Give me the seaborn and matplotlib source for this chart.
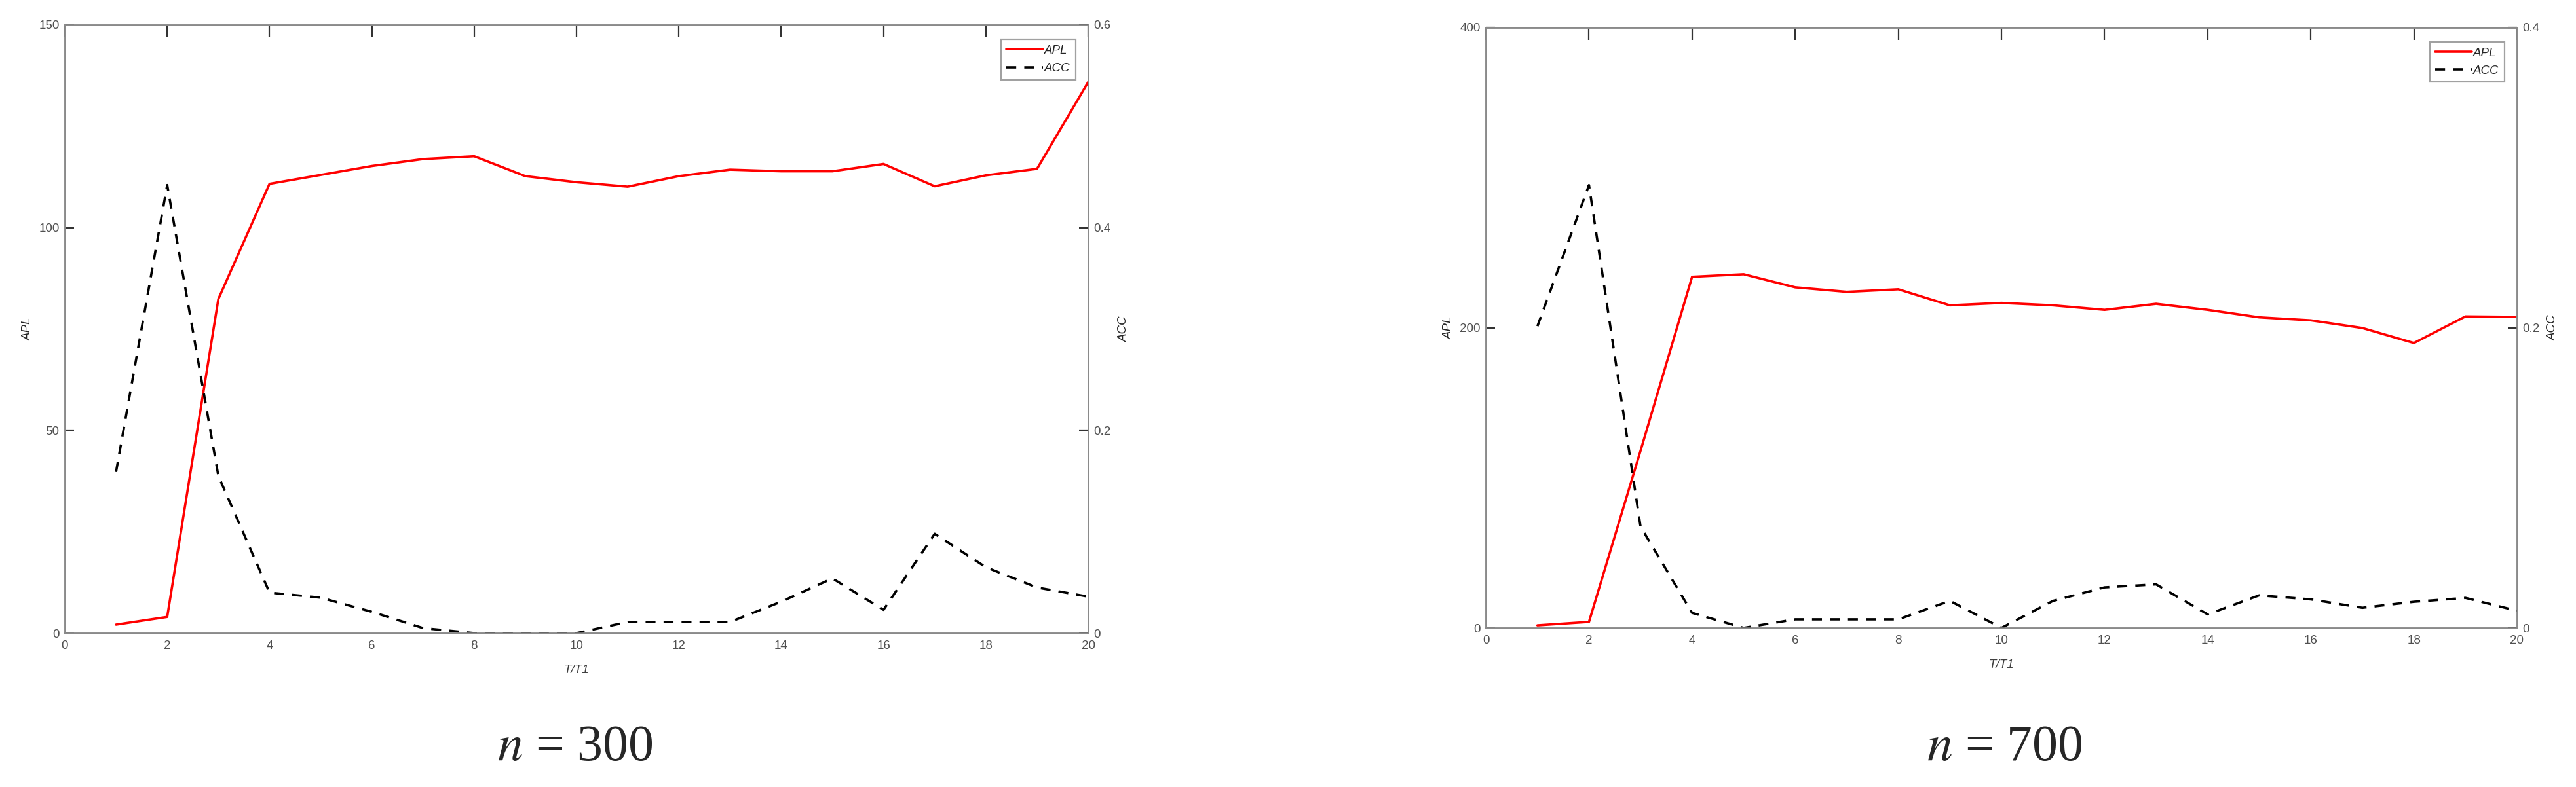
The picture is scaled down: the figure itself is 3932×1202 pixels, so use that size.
import matplotlib
matplotlib.use("Agg")
import matplotlib.pyplot as plt
import seaborn as sns
import pandas as pd

# T/T1 steps
t_ratio = list(range(1, 21))

# n = 300
apl_300 = [2.1, 4.0, 82.4, 110.8, 113.0, 115.2, 116.9, 117.6, 112.7, 111.2,
           110.1, 112.7, 114.3, 113.9, 113.9, 115.7, 110.2, 112.9, 114.5, 135.9]
acc_300 = [0.159, 0.442, 0.155, 0.040, 0.035, 0.021, 0.005, 0.0, 0.0, 0.0,
           0.011, 0.011, 0.011, 0.031, 0.054, 0.023, 0.098, 0.065, 0.045, 0.036]

# n = 700
apl_700 = [1.7, 4.0, 118.0, 233.9, 235.6, 226.9, 223.9, 225.6, 214.9, 216.5,
           214.9, 211.9, 215.9, 211.9, 206.9, 204.9, 199.8, 189.8, 207.5, 207.2]
acc_700 = [0.201, 0.295, 0.0675, 0.010, 0.0, 0.0057, 0.0057, 0.0057, 0.018, 0.0,
           0.018, 0.027, 0.029, 0.009, 0.0217, 0.019, 0.0134, 0.0174, 0.020, 0.0114]

panels = [
    {"apl": apl_300, "acc": acc_300, "apl_max": 150, "apl_ticks": [0, 50, 100, 150],
     "acc_max": 0.6, "acc_ticks": [0, 0.2, 0.4, 0.6], "caption": "300",
     "pos": [99, 38, 1661, 967], "cap_x": 878},
    {"apl": apl_700, "acc": acc_700, "apl_max": 400, "apl_ticks": [0, 200, 400],
     "acc_max": 0.4, "acc_ticks": [0, 0.2, 0.4], "caption": "700",
     "pos": [2268, 42, 3842, 959], "cap_x": 3060},
]

sns.set_style("white")
plt.rcParams['font.family'] = ['Liberation Sans', 'DejaVu Sans']
plt.rcParams['mathtext.fontset'] = 'stix'

W, H = 3932, 1202
fig = plt.figure(figsize=(W / 100, H / 100), dpi=100)

spine_col = "#8a8a8a"
tick_col = "#505050"
fs = 13.5

def fmt(v):
    return "0" if v == 0 else f"{v:g}"

for p in panels:
    l, t, r, b = p["pos"]
    ax = fig.add_axes([l / W, 1 - b / H, (r - l) / W, (b - t) / H])
    df = pd.DataFrame({"T": t_ratio, "APL": p["apl"], "ACC": p["acc"]})

    sns.lineplot(data=df, x="T", y="APL", ax=ax, color="red", lw=2.6, label="APL", legend=False)
    ax2 = ax.twinx()
    sns.lineplot(data=df, x="T", y="ACC", ax=ax2, color="black", lw=2.6,
                 linestyle=(0, (4.2, 3.4)), label="ACC", legend=False)

    ax.set_xlim(0, 20)
    ax.set_ylim(0, p["apl_max"])
    ax2.set_ylim(0, p["acc_max"])
    ax.set_xticks(range(0, 21, 2))
    ax.set_xticklabels([str(v) for v in range(0, 21, 2)])
    ax.set_yticks(p["apl_ticks"])
    ax.set_yticklabels([fmt(v) for v in p["apl_ticks"]])
    ax2.set_yticks(p["acc_ticks"])
    ax2.set_yticklabels([fmt(v) for v in p["acc_ticks"]])

    ax.tick_params(axis="x", direction="in", length=14, width=1.6, color="#333333",
                   labelsize=fs, labelcolor=tick_col, pad=8, top=True)
    ax.tick_params(axis="y", direction="in", length=10, width=1.6, color="#333333",
                   labelsize=fs, labelcolor=tick_col, pad=6, left=True, right=False)
    ax2.tick_params(axis="y", direction="in", length=10, width=1.6, color="#333333",
                    labelsize=fs, labelcolor=tick_col, pad=6, right=True)

    for a in (ax, ax2):
        for s in a.spines.values():
            s.set_color(spine_col)
            s.set_linewidth(1.8)
            s.set_visible(True)

    ax.set_xlabel("T/T1", fontsize=fs, style="italic", color="#404040", labelpad=14)
    ax.set_ylabel("APL", fontsize=fs, style="italic", color="#262626", labelpad=6)
    ax2.set_ylabel("ACC", fontsize=fs, style="italic", color="#262626", labelpad=8)

    handles = ax.get_lines()[:1] + ax2.get_lines()[:1]
    leg = ax2.legend(handles, ["APL", "ACC"], loc="upper right",
                     bbox_to_anchor=(0.988, 0.976), borderaxespad=0,
                     fancybox=False, frameon=True, handlelength=3.0,
                     handletextpad=0.1, borderpad=0.45, labelspacing=0.55,
                     prop={"size": fs, "style": "italic"})
    leg.get_frame().set_edgecolor(spine_col)
    leg.get_frame().set_linewidth(1.6)

    fig.text(p["cap_x"] / W, 1 - 1161 / H, r"$n$ = " + p["caption"],
             ha="center", va="baseline", fontsize=56,
             family=["Liberation Serif", "DejaVu Serif"])

fig.savefig("out.png", dpi=100, facecolor="white")
